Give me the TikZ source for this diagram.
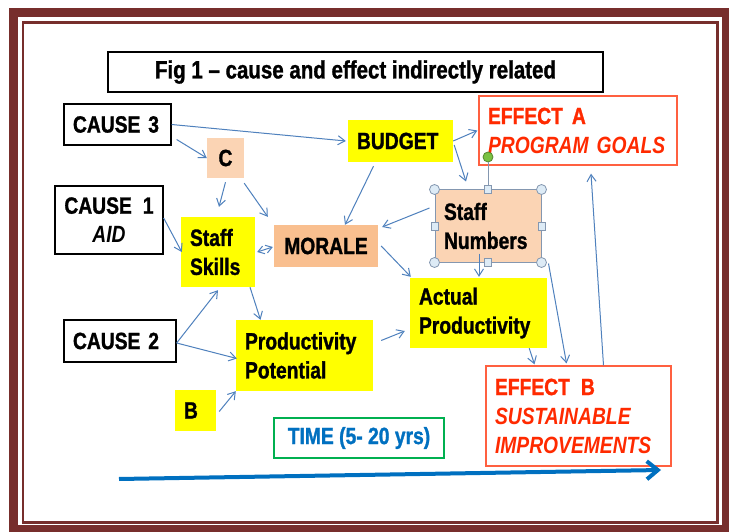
\documentclass[tikz,border=0pt]{standalone}
\usepackage{fontspec}
\setmainfont{Liberation Sans}[FakeStretch=0.82, BoldFeatures={FakeBold=1.2}]
\usepackage{tikz}
\usetikzlibrary{arrows.meta}

\definecolor{frame}{HTML}{772E2C}
\definecolor{skyline}{HTML}{4F81BD}
\definecolor{lemon}{HTML}{FFFF00}
\definecolor{peach}{HTML}{FBD4B4}
\definecolor{apricot}{HTML}{F9BF8F}
\definecolor{alert}{HTML}{FF2A00}
\definecolor{alertline}{HTML}{FF6040}
\definecolor{timeblue}{HTML}{0070C0}
\definecolor{timegreen}{HTML}{00B050}
\definecolor{handlefill}{HTML}{DDEBF6}
\definecolor{handleline}{HTML}{8497B0}
\definecolor{gripgreen}{HTML}{7AC143}

\begin{document}
\begin{tikzpicture}[x=1pt, y=-1pt,
    link/.style={draw=skyline, line width=1pt, -{Straight Barb[length=7pt,width=9pt]}},
    lab/.style={font=\bfseries\fontsize{23.5}{29}\selectfont, inner xsep=9pt, inner ysep=0pt},
    causebox/.style={lab, draw=black, line width=1.3pt, fill=white, align=left},
    yellowbox/.style={lab, fill=lemon, align=left},
    peachbox/.style={lab, fill=peach, align=left},
    effectbox/.style={lab, draw=alertline, line width=1.3pt, fill=white, align=left, text=alert},
    corner/.style={circle, draw=handleline, fill=handlefill, line width=0.8pt, minimum size=10pt, inner sep=0pt},
    side/.style={rectangle, draw=handleline, fill=handlefill, line width=0.8pt, minimum width=7pt, minimum height=8pt, inner sep=0pt}]

    \useasboundingbox (0,0) rectangle (729,532);
    \fill[white] (0,0) rectangle (729,532);
    \draw[frame, line width=9pt] (13.5,12.5) rectangle (726,529);
    \draw[frame, line width=2.5pt] (23,22.5) rectangle (717.5,522.5);

    \node[causebox, align=center, minimum width=495pt, minimum height=40pt,
      font=\bfseries\fontsize{25}{29}\selectfont] (title) at (355.5,72)
      {Fig 1 -- cause and effect indirectly related};

    \node[causebox, minimum height=41pt, text width=89pt] (cause3) at (117.5,124.5) {CAUSE 3};
    \node[causebox, align=center, minimum width=108pt, minimum height=68pt] (cause1) at (109,220)
      {CAUSE\hspace{11pt}1\\\textit{AID}};
    \node[causebox, minimum height=42pt, text width=94pt] (cause2) at (120,341) {CAUSE 2};

    \node[peachbox, align=center, inner xsep=0pt, minimum width=37pt, minimum height=40pt] (C) at (225.5,158) {C};
    \node[yellowbox, minimum height=42pt, text width=87pt] (budget) at (400.5,141) {BUDGET};
    \node[effectbox, minimum height=69pt, text width=180pt] (effA) at (578,130.5)
      {\mbox{EFFECT\hspace{9pt}A}\\\mbox{\textit{PROGRAM\hspace{8pt}GOALS}}};
    \node[peachbox, draw=handleline, line width=1pt, minimum height=72pt, text width=88pt] (staffnum) at (488,226)
      {Staff\\Numbers};
    \node[yellowbox, minimum height=70pt, text width=56pt] (skills) at (218,252) {Staff\\Skills};
    \node[lab, fill=apricot, minimum width=104pt, minimum height=42pt] (morale) at (326,246) {MORALE};
    \node[yellowbox, minimum height=70pt, text width=119pt] (actual) at (478.5,313) {Actual\\Productivity};
    \node[yellowbox, minimum height=71pt, text width=119pt] (potential) at (304.5,355.5) {Productivity\\Potential};
    \node[yellowbox, minimum height=41pt, text width=23pt] (B) at (195.5,410.5) {B};
    \node[lab, draw=timegreen, line width=1.2pt, text=timeblue, minimum width=170pt, minimum height=40pt] (time)
      at (359,438) {TIME (5- 20 yrs)};
    \node[effectbox, minimum height=100pt, text width=167pt] (effB) at (578.5,416)
      {\mbox{EFFECT\hspace{11pt}B}\\\mbox{\textit{SUSTAINABLE}}\\\mbox{\textit{IMPROVEMENTS}}\\[-3pt]};

    \node[circle, draw=gripgreen!70!black, fill=gripgreen, line width=0.8pt, minimum size=10pt, inner sep=0pt] (grip)
      at (488,157) {};
    \draw[handleline, line width=1pt] (grip) -- (staffnum.north);
    \foreach \c/\n in {north west/nw, north east/ne, south west/sw, south east/se}
      \node[corner] (corner-\n) at (staffnum.\c) {};
    \foreach \c/\n in {north/n, south/s, west/w, east/e}
      \node[side] (side-\n) at (staffnum.\c) {};

    \draw[link] (cause3.east) -- ([shift={(-2,0)}]budget.west);
    \draw[link] ([shift={(5,15)}]cause3.east) -- (C.west);
    \draw[link] ([shift={(0,4)}]C.south) -- ([shift={(1,-10)}]skills.north);
    \draw[link] ([shift={(0,5)}]C.south east) -- ([shift={(-6,-8)}]morale.north west);
    \draw[link] ([shift={(0,-2)}]cause1.east) -- ([shift={(1,0)}]skills.west);
    \draw[link, {Straight Barb[length=6pt,width=8pt]}-{Straight Barb[length=6pt,width=8pt]}]
      ([shift={(2,0)}]skills.east) -- ([shift={(-1,1)}]morale.west);
    \draw[link] ([shift={(-27,4)}]budget.south) -- ([shift={(19,0)}]morale.north);
    \draw[link] (budget.east) -- ([shift={(-1,0)}]effA.west);
    \draw[link] ([shift={(1,4)}]budget.east) -- ([shift={(-22,-8)}]staffnum.north);
    \draw[link] ([shift={(-5,-18)}]staffnum.west) -- ([shift={(4,-19)}]morale.east);
    \draw[link] ([shift={(3,0)}]morale.east) -- ([shift={(1,-1)}]actual.north west);
    \draw[link] ([shift={(-9,-9)}]staffnum.south) -- ([shift={(0.5,-1)}]actual.north);
    \draw[link] ([shift={(32,0)}]skills.south) -- ([shift={(-44,0)}]potential.north);
    \draw[link] ([shift={(0,2)}]cause2.east) -- ([shift={(0,3)}]skills.south);
    \draw[link] ([shift={(0,2)}]cause2.east) -- ([shift={(1,3)}]potential.west);
    \draw[link] ([shift={(3,1)}]B.east) -- (potential.south west);
    \draw[link] ([shift={(8,-15)}]potential.east) -- ([shift={(-5,18)}]actual.west);
    \draw[link] ([shift={(-18,0)}]actual.south east) -- ([shift={(-44,-1)}]effB.north);
    \draw[link] ([shift={(7,1)}]staffnum.south east) -- ([shift={(-12,-2)}]effB.north);
    \draw[link] ([shift={(25,0)}]effB.north) -- ([shift={(13,8)}]effA.south);

    \coordinate (t0) at (119,479);
    \coordinate (t1) at (661,470);
    \draw[timeblue, line width=4pt, -{Straight Barb[length=11pt,width=18pt]}] (t0) -- (t1);
\end{tikzpicture}
\end{document}
